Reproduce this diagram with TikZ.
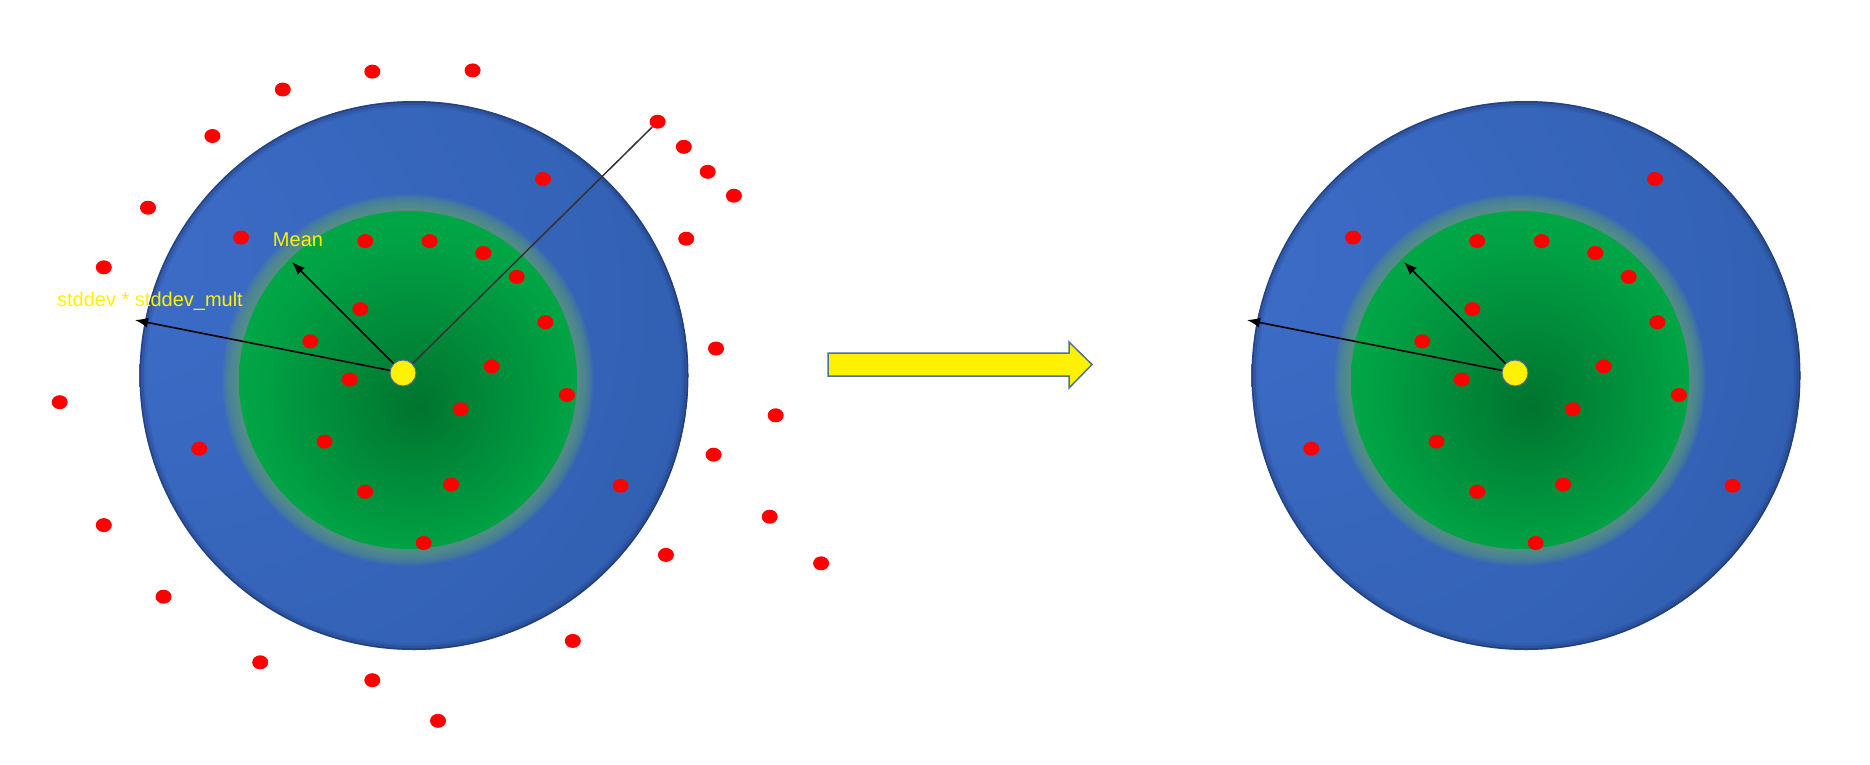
\documentclass[tikz,border=0pt]{standalone}
\usepackage{fontspec}
\setmainfont{Liberation Sans}
\usetikzlibrary{arrows.meta,shapes.geometric}
\definecolor{blueA}{HTML}{3D6DC8}
\definecolor{blueB}{HTML}{3362B6}
\definecolor{blueC}{HTML}{284A8B}
\definecolor{rimc}{HTML}{17295A}
\definecolor{greenA}{HTML}{00742F}
\definecolor{greenB}{HTML}{00A445}
\definecolor{greenC}{HTML}{00AE49}
\definecolor{glowc}{HTML}{5C9882}
\definecolor{dotred}{HTML}{FF0000}
\definecolor{arrowedge}{HTML}{4F6FA0}
\definecolor{meanedge}{HTML}{5A6A8A}
\pgfdeclareradialshading{blueball}{\pgfpoint{-30bp}{12bp}}{color(0bp)=(blueA); color(35bp)=(blueB); color(80bp)=(blueC)}
\pgfdeclareradialshading{greenball}{\pgfpoint{1.5bp}{-4bp}}{color(0bp)=(greenA); color(24bp)=(greenB); color(40bp)=(greenC); color(50bp)=(greenC)}
\tikzset{
  reddot/.style={ellipse, fill=dotred, draw=none, minimum width=16pt, minimum height=14pt, inner sep=0pt},
  meandot/.style={circle, fill=yellow, draw=meanedge, line width=1pt, minimum size=26pt, inner sep=0pt},
  radius arrow/.style={draw=black, line width=1.6pt, -{Latex[length=13pt,width=10pt]}},
  plainline/.style={draw=black!80, line width=1.5pt},
  lbl/.style={text=yellow, font=\fontsize{20pt}{24pt}\selectfont, inner sep=0pt, anchor=base},
  bigarrow/.style={fill=yellow, draw=arrowedge, line width=1.5pt, line join=miter},
}
\def\innerlist{543/179, 241/237.5, 199.3/448.7, 620.6/485.7, 365.2/241.1, 429.6/241.1, 483.3/253.0, 516.7/276.9, 545.4/322.2, 360.4/309.1, 310.3/341.3, 491.7/366.4, 349.7/379.5, 566.9/395.0, 460.7/409.3, 324.6/441.6, 365.2/491.7, 451.1/484.5, 423.7/543.0}
\def\outerlist{372.3/71.6, 472.6/70.4, 282.8/89.5, 212.4/136.0, 657.6/121.7, 683.8/146.8, 707.7/171.8, 733.9/195.7, 148.0/207.7, 103.8/267.3, 686.2/238.7, 716.0/348.5, 59.7/402.2, 775.7/415.3, 713.6/454.7, 103.8/525.1, 769.7/516.7, 821.1/563.3, 163.5/596.7, 665.9/554.9, 572.8/640.9, 260.2/662.3, 372.3/680.2, 438.0/720.8}
\begin{document}
\begin{tikzpicture}[x=1pt,y=-1pt]
\useasboundingbox (0,0) rectangle (1870,764);
\foreach \sx/\pre in {0/L,1112/R}{
  \coordinate (\pre bc) at (414+\sx,375.5);
  \coordinate (\pre gc) at (408+\sx,380);
  \shade[shading=blueball] (\pre bc) circle (274.5pt);
  \begin{scope}
    \clip (\pre bc) circle (274.5pt);
    \draw[rimc, opacity=0.55, line width=2pt] (\pre bc) circle (274pt);
    \draw[rimc, opacity=0.25, line width=3pt] (\pre bc) circle (272pt);
    \draw[rimc, opacity=0.10, line width=3pt] (\pre bc) circle (269.5pt);
  \end{scope}
  \foreach \r in {170,...,186}{
    \fill[glowc, opacity=0.11] (\pre gc) circle (\r pt);
  }
  \shade[shading=greenball] (\pre gc) circle (169pt);
  \foreach \x/\y [count=\i] in \innerlist {
    \node[reddot] (\pre in\i) at (\x+\sx,\y) {};
  }
  \node[meandot] (\pre mean) at (403+\sx,373) {};
  \coordinate (\pre meantip) at (292+\sx,262);
  \coordinate (\pre sdtip) at (135+\sx,320);
  \draw[radius arrow] (\pre mean) -- (\pre meantip);
  \draw[radius arrow] (\pre mean) -- (\pre sdtip);
}
\foreach \x/\y [count=\i] in \outerlist {
  \node[reddot] (out\i) at (\x,\y) {};
}
\draw[plainline] (Lmean) -- (out5);
\node[lbl] (meanlbl) at (298,246.7) {Mean};
\node[lbl] (sdlbl) at (150,306) {stddev * stddev\_mult};
\draw[bigarrow] (828,353) -- (1069,353) -- (1069,342) -- (1092,364.5) -- (1069,388) -- (1069,376) -- (828,376) -- cycle;
\end{tikzpicture}
\end{document}
